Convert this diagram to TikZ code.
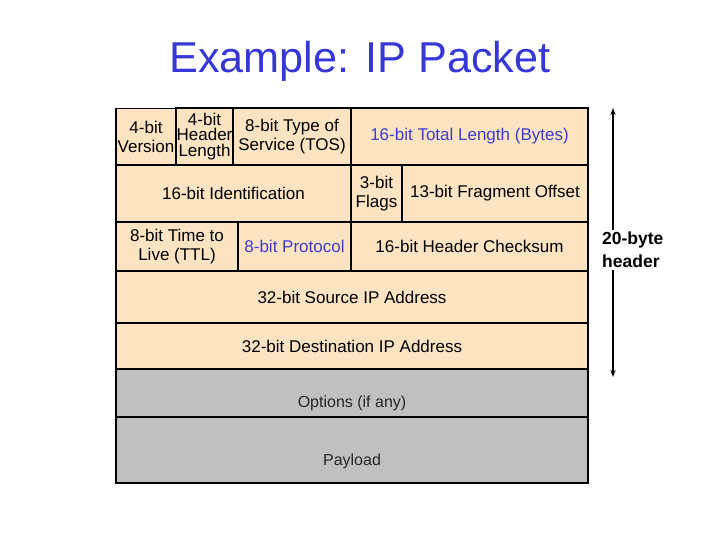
\documentclass[tikz,border=0pt]{standalone}
\usepackage{fontspec}
\setmainfont{Liberation Sans}
\usetikzlibrary{arrows.meta}
\definecolor{tan}{RGB}{252,228,194}
\definecolor{pgray}{RGB}{192,192,192}
\definecolor{tblue}{RGB}{55,55,215}
\definecolor{cblue}{RGB}{60,60,200}
\begin{document}
\begin{tikzpicture}[x=1pt,y=-1pt,
  cell/.style={draw=black, line width=1.6pt, fill=tan, inner sep=0pt, align=center,
    font=\fontsize{17}{19.5}\selectfont},
  gcell/.style={draw=black, line width=1.6pt, fill=pgray, inner sep=0pt,
    minimum width=472pt},
  gtext/.style={inner sep=0pt, font=\fontsize{16}{19}\selectfont, text=black!85},
  hdrtext/.style={align=left, inner sep=2pt, font=\fontsize{17.5}{23}\selectfont\bfseries},
  harrow/.style={line width=1.8pt, -{Stealth[length=7pt,width=5pt]}}
]
\useasboundingbox (0,0) rectangle (720,540);
\node[text=tblue, font=\fontsize{43.2}{46}\selectfont, anchor=base] (title) at (360,73) {Example: IP Packet};
% row 1
\node[cell, minimum width=60pt, minimum height=57pt] (ver) at (146,137) {4-bit\\Version};
\node[cell, minimum width=57pt, minimum height=57pt, font=\fontsize{17}{15.5}\selectfont] (hlen) at (204.5,136.5) {4-bit\\Header\\Length};
\node[cell, minimum width=118pt, minimum height=57pt] (tos) at (292,136.5) {8-bit Type of\\Service (TOS)};
\node[cell, minimum width=237pt, minimum height=57pt, text=cblue] (tlen) at (469.5,136.5) {16-bit Total Length (Bytes)};
% row 2
\node[cell, minimum width=235pt, minimum height=57pt] (ident) at (233.5,193.5) {16-bit Identification};
\node[cell, minimum width=51pt, minimum height=57pt] (flags) at (376.5,193.5) {3-bit\\Flags};
\node[cell, minimum width=186pt, minimum height=57pt] (frag) at (495,193.5) {13-bit Fragment Offset};
% row 3
\node[cell, minimum width=122pt, minimum height=49pt] (ttl) at (177,246.5) {8-bit Time to\\Live (TTL)};
\node[cell, minimum width=113pt, minimum height=49pt, text=cblue] (proto) at (294.5,246.5) {8-bit Protocol};
\node[cell, minimum width=237pt, minimum height=49pt] (csum) at (469.5,246.5) {16-bit Header Checksum};
% rows 4,5
\node[cell, minimum width=472pt, minimum height=52pt] (src) at (352,297) {32-bit Source IP Address};
\node[cell, minimum width=472pt, minimum height=46pt] (dst) at (352,346) {32-bit Destination IP Address};
% options and payload
\node[gcell, minimum height=48pt] (opt) at (352,393) {};
\node[gcell, minimum height=66pt] (pay) at (352,450) {};
\node[gtext] (optt) at ([yshift=-10pt]opt.center) {Options (if any)};
\node[gtext] (payt) at ([yshift=-11pt]pay.center) {Payload};
% header arrow
\node[hdrtext, anchor=west] (hdr) at (600,250) {20-byte\\header};
\coordinate (atop) at (613,108);
\coordinate (abot) at (613,377);
\draw[harrow] (atop |- hdr.north) -- (atop);
\draw[harrow] (abot |- hdr.south) -- (abot);
\end{tikzpicture}
\end{document}
